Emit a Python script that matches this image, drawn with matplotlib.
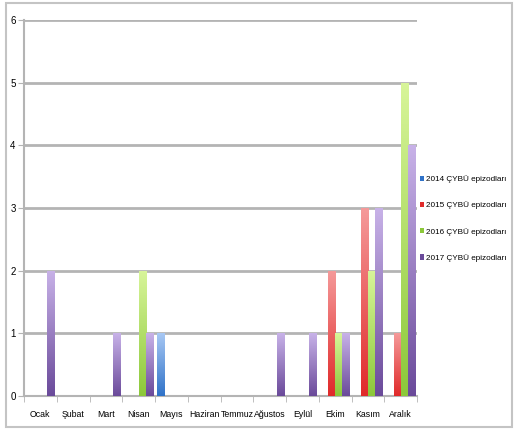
import numpy as np
import matplotlib.pyplot as plt
from matplotlib.colors import LinearSegmentedColormap
from matplotlib.patches import Rectangle

plt.rcParams['font.family'] = ['Liberation Sans', 'DejaVu Sans']

aylar = ["Ocak", "Şubat", "Mart", "Nisan", "Mayıs", "Haziran", "Temmuz",
         "Ağustos", "Eylül", "Ekim", "Kasım", "Aralık"]
seriler = ["2014 ÇYBÜ epizodları", "2015 ÇYBÜ epizodları",
           "2016 ÇYBÜ epizodları", "2017 ÇYBÜ epizodları"]
y2014 = [0, 0, 0, 0, 1, 0, 0, 0, 0, 0, 0, 0]
y2015 = [0, 0, 0, 0, 0, 0, 0, 0, 0, 2, 3, 1]
y2016 = [0, 0, 0, 2, 0, 0, 0, 0, 0, 1, 2, 5]
y2017 = [2, 0, 1, 1, 0, 0, 0, 1, 1, 1, 3, 4]

# (alt renk, üst renk) - barlarda dikey gradyan
renkler = [("#2f72c8", "#a8c8f4"),
           ("#e02a2a", "#f59a9a"),
           ("#8cc83a", "#d8f59a"),
           ("#6a4a9a", "#c8b2e8")]

fig = plt.figure(figsize=(5.14, 4.29), dpi=100)
fig.patches.append(Rectangle((6 / 514, 2 / 429), 506 / 514, 424 / 429,
                             transform=fig.transFigure, fill=False,
                             edgecolor="#c4c4c4", linewidth=1.5))
ax = fig.add_axes([24 / 514, 33 / 429, 393 / 514, 376 / 429])

x = np.arange(len(aylar))
w = 0.215
grad = np.linspace(0, 1, 256).reshape(-1, 1)
for i, (vals, (c0, c1)) in enumerate(zip([y2014, y2015, y2016, y2017], renkler)):
    cmap = LinearSegmentedColormap.from_list("g%d" % i, [c0, c1])
    bars = ax.bar(x + (i - 2) * w, vals, w, align="edge", color=c0,
                  linewidth=0, label=seriler[i], zorder=3)
    for b, v in zip(bars, vals):
        if v <= 0:
            continue
        bx, bw = b.get_x(), b.get_width()
        im = ax.imshow(grad, cmap=cmap, origin="lower", aspect="auto",
                       extent=(bx, bx + bw, 0, v), zorder=4)
        im.set_clip_path(b)

ax.set_xlim(-0.5, len(aylar) - 0.5)
ax.set_ylim(0, 6)
ax.set_yticks(range(0, 7))
ax.yaxis.grid(True, color="#b4b4b4", linewidth=2)
ax.set_axisbelow(True)
ax.set_xticks(x)
ax.set_xticklabels(aylar, fontsize=6.3)
ax.set_xticks(np.arange(-0.5, len(aylar), 1), minor=True)
ax.tick_params(axis="x", which="major", length=0, pad=10)
ax.tick_params(axis="x", which="minor", length=4, color="#b4b4b4")
ax.tick_params(axis="y", length=4, color="#b4b4b4", labelsize=7, pad=2)
for s in ["top", "right"]:
    ax.spines[s].set_visible(False)
for s in ["left", "bottom"]:
    ax.spines[s].set_color("#b4b4b4")
    ax.spines[s].set_linewidth(1.5)

ax.legend(loc="center left", bbox_to_anchor=(0.995, 0.472), frameon=False,
          fontsize=5.9, handlelength=0.45, handleheight=0.6,
          handletextpad=0.3, labelspacing=2.25, borderaxespad=0.2)

fig.savefig("out.png", dpi=100)
